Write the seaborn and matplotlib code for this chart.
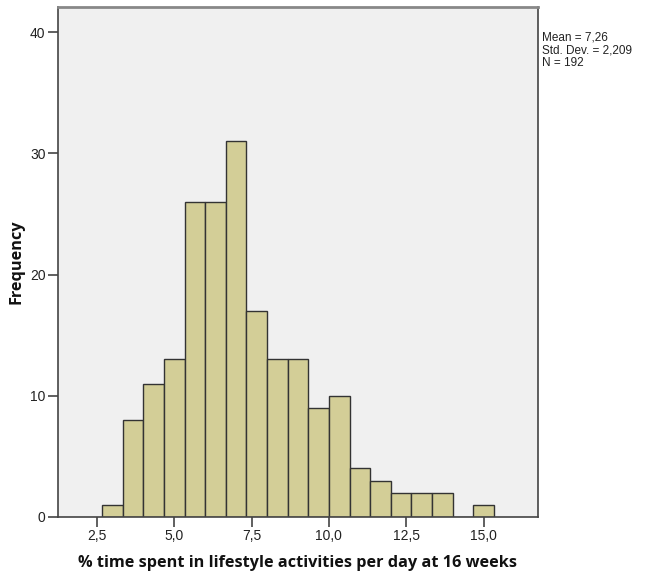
import numpy as np
import pandas as pd
import matplotlib
matplotlib.use("Agg")
import matplotlib.pyplot as plt
import seaborn as sns

# Histogram bins (lower edge, width) and frequencies
bin_start = 2.6667
bin_width = 0.6667
counts = [1, 8, 11, 13, 26, 26, 31, 17, 13, 13, 9, 10, 4, 3, 2, 2, 2, 0, 1]
x_ticks = [2.5, 5.0, 7.5, 10.0, 12.5, 15.0]
x_tick_labels = ["2,5", "5,0", "7,5", "10,0", "12,5", "15,0"]
y_ticks = [0, 10, 20, 30, 40]
stats_text = "Mean = 7,26\nStd. Dev. = 2,209\nN = 192"

edges = bin_start + bin_width * np.arange(len(counts) + 1)
centers = (edges[:-1] + edges[1:]) / 2
df = pd.DataFrame({"value": centers, "freq": counts})

sns.set_theme(style="ticks")
plt.rcParams["font.family"] = ["Liberation Sans", "DejaVu Sans"]

fig = plt.figure(figsize=(6.45, 5.75), dpi=100)
ax = fig.add_axes([0.090, 0.101, 0.744, 0.887])
ax.set_facecolor("#f0f0f0")

sns.histplot(data=df, x="value", weights="freq", binwidth=bin_width,
             binrange=(edges[0], edges[-1]), ax=ax,
             color="#d3ce97", alpha=1.0, edgecolor="#333333", linewidth=1.0)

ax.set_xlim(1.24, 16.76)
ax.set_ylim(0, 42.1)
ax.set_xticks(x_ticks)
ax.set_xticklabels(x_tick_labels)
ax.set_yticks(y_ticks)
ax.tick_params(axis="both", direction="out", length=7, width=1.2,
               color="#444444", labelsize=10, labelcolor="#222222", pad=2)

for side in ["left", "bottom", "right", "top"]:
    ax.spines[side].set_visible(True)
    ax.spines[side].set_color("#444444")
    ax.spines[side].set_linewidth(1.2)
ax.spines["top"].set_color("#888888")
ax.spines["top"].set_linewidth(2)

label_font = dict(fontsize=11.7, fontweight="bold",
                  family=["Open Sans", "DejaVu Sans"], color="#111111")
ax.set_xlabel("% time spent in lifestyle activities per day at 16 weeks",
              labelpad=8, **label_font)
ax.set_ylabel("Frequency", labelpad=4, **label_font)

fig.text(0.840, 0.945, stats_text, fontsize=8.5, va="top", ha="left",
         color="#222222", linespacing=1.05)

fig.savefig("out.png", dpi=100, facecolor="white")
